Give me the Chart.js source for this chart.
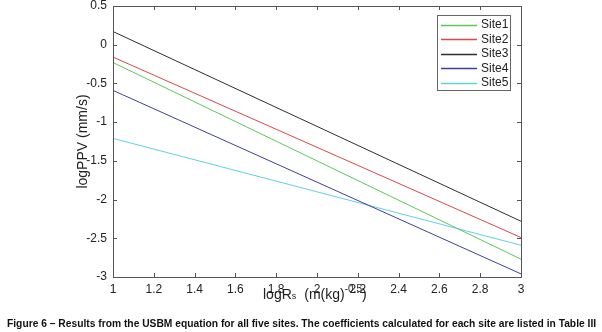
<html>
    <head>
        <title>Figure 6</title>
        <style>
            body { margin: 0; background: #fff; }
            #wrap { width: 602px; height: 332px; }
        </style>
    </head>
    <body>
        <div id="wrap">
            <canvas id="chart" width="602" height="332"></canvas>
        </div>
        <script src="https://cdn.jsdelivr.net/npm/chart.js@4/dist/chart.umd.min.js"></script>
        <script>
            // logRs at both ends of every line
            const logRs = [1, 3]
            const site1 = [-0.23, -2.77]
            const site2 = [-0.16, -2.49]
            const site3 = [0.17, -2.28]
            const site4 = [-0.59, -2.96]
            const site5 = [-1.21, -2.59]
            const siteNames = ['Site1', 'Site2', 'Site3', 'Site4', 'Site5']
            const siteColors = ['#5cc85a', '#d8494a', '#2f2f2f', '#3f3fa0', '#5fd2e2']
            const caption = 'Figure 6 \u2013 Results from the USBM equation for all five sites. The coefficients calculated for each site are listed in Table III'

            const font = '"Liberation Sans", Arial, sans-serif'
            const series = [site1, site2, site3, site4, site5]

            const datasets = series.map((vals, i) => ({
                label: siteNames[i],
                data: logRs.map((x, j) => ({x: x, y: vals[j]})),
                borderColor: siteColors[i],
                borderWidth: 1,
                pointRadius: 0,
                fill: false,
                tension: 0
            }))

            // plain numbers: 1, 1.2, ..., 0.5, 0, -0.5
            const fmt = v => String(Math.round(v * 10) / 10)

            // box round the plot, inward ticks, legend, axis titles, caption
            const decor = {
                id: 'decor',
                afterDraw(chart) {
                    const ctx = chart.ctx
                    const a = chart.chartArea
                    const xs = chart.scales.x
                    const ys = chart.scales.y
                    ctx.save()
                    ctx.strokeStyle = '#555'
                    ctx.lineWidth = 1
                    ctx.strokeRect(a.left + 0.5, a.top + 0.5, a.right - a.left, a.bottom - a.top)
                    ctx.beginPath()
                    xs.ticks.forEach(t => {
                        const px = Math.round(xs.getPixelForValue(t.value)) + 0.5
                        ctx.moveTo(px, a.bottom); ctx.lineTo(px, a.bottom - 4)
                        ctx.moveTo(px, a.top); ctx.lineTo(px, a.top + 4)
                    })
                    ys.ticks.forEach(t => {
                        const py = Math.round(ys.getPixelForValue(t.value)) + 0.5
                        ctx.moveTo(a.left, py); ctx.lineTo(a.left + 4, py)
                        ctx.moveTo(a.right, py); ctx.lineTo(a.right - 4, py)
                    })
                    ctx.stroke()

                    // legend
                    const lx = 437, ly = 15, lw = 73, lh = 75
                    ctx.fillStyle = '#fff'
                    ctx.fillRect(lx, ly, lw, lh)
                    ctx.strokeStyle = '#666'
                    ctx.strokeRect(lx + 0.5, ly + 0.5, lw, lh)
                    ctx.font = '12px ' + font
                    ctx.textBaseline = 'middle'
                    ctx.textAlign = 'left'
                    chart.data.datasets.forEach((ds, i) => {
                        const yy = ly + 9.5 + i * 14.5
                        ctx.strokeStyle = ds.borderColor
                        ctx.lineWidth = 1.3
                        ctx.beginPath()
                        ctx.moveTo(lx + 4, Math.round(yy) + 0.5)
                        ctx.lineTo(lx + 40, Math.round(yy) + 0.5)
                        ctx.stroke()
                        ctx.fillStyle = '#222'
                        ctx.fillText(ds.label, lx + 44, yy + 0.5)
                    })

                    // y title
                    ctx.fillStyle = '#222'
                    ctx.save()
                    ctx.translate(87, (a.top + a.bottom) / 2)
                    ctx.rotate(-Math.PI / 2)
                    ctx.font = '14px ' + font
                    ctx.textAlign = 'center'
                    ctx.textBaseline = 'alphabetic'
                    ctx.fillText('logPPV (mm/s)', 0, 0)
                    ctx.restore()

                    // x title with subscript and superscript
                    ctx.textBaseline = 'alphabetic'
                    ctx.textAlign = 'left'
                    const base = 299
                    let cx = 263
                    ctx.font = '14px ' + font
                    ctx.fillText('logR', cx, base); cx += ctx.measureText('logR').width
                    ctx.font = '9px ' + font
                    ctx.fillText('s', cx, base); cx += ctx.measureText('s').width + 8
                    ctx.font = '14px ' + font
                    ctx.fillText('(m(kg)', cx, base); cx += ctx.measureText('(m(kg)').width
                    ctx.font = '10px ' + font
                    ctx.fillText('-0.5', cx, base - 7); cx += ctx.measureText('-0.5').width
                    ctx.font = '14px ' + font
                    ctx.fillText(')', cx, base)

                    // caption
                    ctx.font = 'bold 10px ' + font
                    const w = ctx.measureText(caption).width
                    const fs = 10 * 590 / w
                    ctx.font = 'bold ' + fs.toFixed(2) + 'px ' + font
                    ctx.fillStyle = '#111'
                    ctx.textBaseline = 'middle'
                    ctx.fillText(caption, 7, 324)
                    ctx.restore()
                }
            }

            new Chart(document.getElementById('chart'), {
                type: 'line',
                data: {datasets: datasets},
                options: {
                    responsive: false,
                    animation: false,
                    layout: {padding: {left: 0, right: 81, top: 6, bottom: 0}},
                    plugins: {legend: {display: false}, tooltip: {enabled: false}},
                    scales: {
                        x: {
                            type: 'linear',
                            min: 1, max: 3,
                            grid: {display: false, drawTicks: false},
                            border: {display: false},
                            ticks: {stepSize: 0.2, autoSkip: false, maxRotation: 0, padding: 5,
                                color: '#222', font: {family: font, size: 12},
                                callback: v => fmt(v)},
                            afterFit(s) { s.height = 55; s.paddingLeft = 0; s.paddingRight = 0 }
                        },
                        y: {
                            min: -3, max: 0.5,
                            grid: {display: false, drawTicks: false},
                            border: {display: false},
                            ticks: {stepSize: 0.5, padding: 6,
                                color: '#222', font: {family: font, size: 12},
                                callback: v => fmt(v)},
                            afterFit(s) { s.width = 113; s.paddingTop = 0; s.paddingBottom = 0 }
                        }
                    }
                },
                plugins: [decor]
            })
        </script>
    </body>
</html>
